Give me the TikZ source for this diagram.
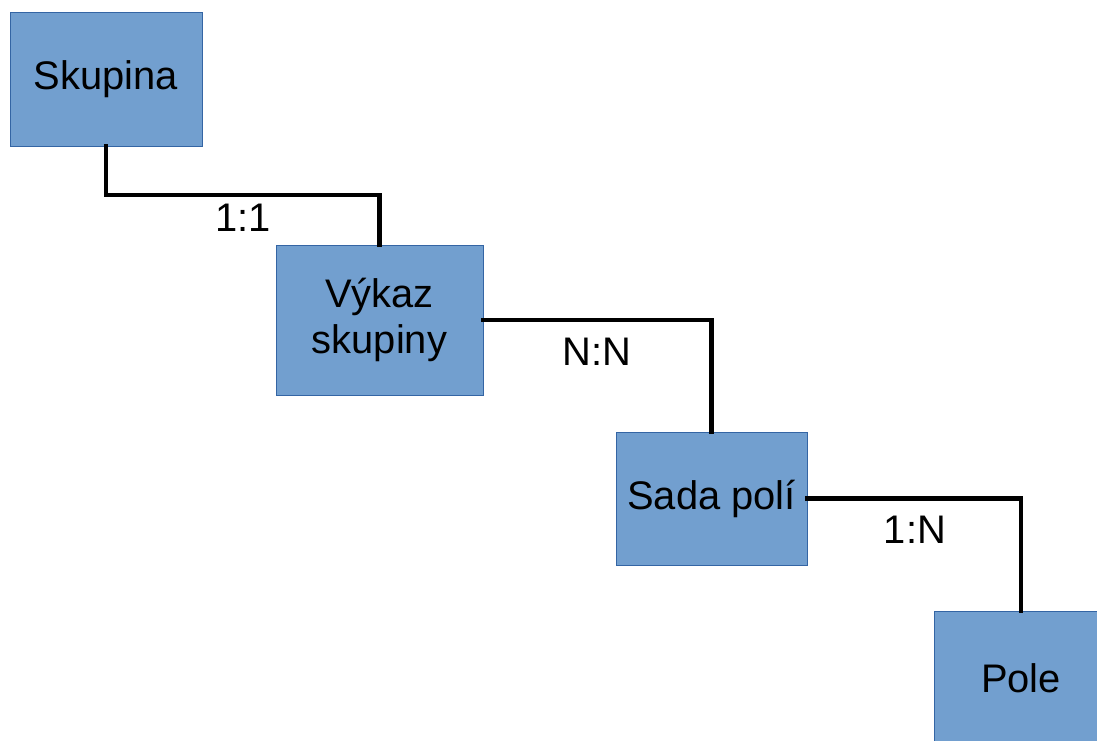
\documentclass[tikz,border=0pt]{standalone}
\usepackage{fontspec}
\setmainfont{Liberation Sans}
\usetikzlibrary{positioning,calc}
\definecolor{boxfill}{HTML}{729FCF}
\definecolor{boxline}{HTML}{3465A4}
\tikzset{
  entity/.style={draw=boxline, line width=0.5pt, fill=boxfill, align=center,
    inner sep=0pt, font=\fontsize{22.7}{26}\selectfont},
  link/.style={line width=2.3pt, line cap=rect},
  card/.style={font=\fontsize{22.7}{26}\selectfont}
}
\begin{document}
\begin{tikzpicture}[x=0.02cm, y=-0.02cm]
    \useasboundingbox (0,0) rectangle (1097,740);
    \clip (0,0) rectangle (1097,740);
	\node[entity, minimum width=192*0.02cm, minimum height=134*0.02cm] (skupina) at (106,79) {Skupina};
	\node[entity, minimum width=207*0.02cm, minimum height=150*0.02cm] (vykaz) at (379.5,320) {Výkaz\\skupiny};
	\node[entity, minimum width=191*0.02cm, minimum height=133*0.02cm] (sada) at (711.5,498.5) {Sada polí};
	\node[entity, minimum width=174*0.02cm, minimum height=134*0.02cm] (pole) at (1021,678) {Pole};

\draw[link] (skupina.south) -- (skupina.south |- 0,195) -| (vykaz.north);
\draw[link] (vykaz.east) -| (sada.north);
\draw[link] (sada.east) -| (pole.north);

\node[card] (c1) at (243,218) {1:1};
\node[card] (c2) at (597,352) {N:N};
\node[card] (c3) at (915,530) {1:N};
\end{tikzpicture}
\end{document}
